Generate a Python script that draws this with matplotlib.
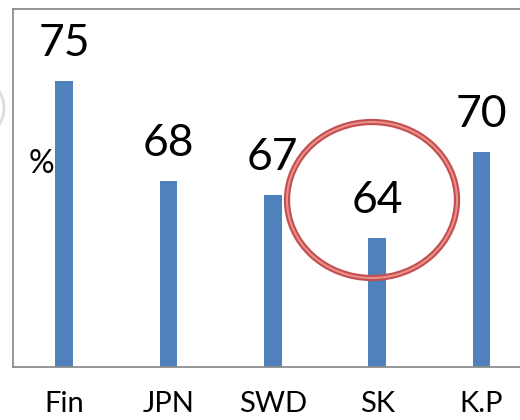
import matplotlib
matplotlib.use("Agg")
import matplotlib.pyplot as plt
from matplotlib.patches import Ellipse, Arc

categories = ["Fin", "JPN", "SWD", "SK", "K.P"]
values = [75, 68, 67, 64, 70]
unit_label = "%"

plt.rcParams["font.family"] = ["Lato", "DejaVu Sans"]

fig = plt.figure(figsize=(5.2, 4.2), dpi=100)
ax = fig.add_axes([13 / 520, 1 - 367 / 420, 531 / 520, (367 - 9) / 420])

x = list(range(len(categories)))
ax.bar(x, values, width=0.17, color="#4F81BD", zorder=2)
ax.set_xlim(-0.49, 4.6)
ax.set_ylim(55, 80)

for xi, v in zip(x, values):
    ax.annotate(str(v), (xi, v), xytext=(0, 27), textcoords="offset points",
                ha="center", va="center", fontsize=32, color="black")

ax.set_xticks(x)
ax.set_xticklabels(categories, fontsize=21)
ax.tick_params(axis="x", length=0, pad=17)
ax.set_yticks([])

for side in ("left", "bottom", "top", "right"):
    ax.spines[side].set_color("#8c8c8c")
    ax.spines[side].set_linewidth(1.3)

ax.text(-0.22, 69.2, unit_label, ha="center", va="center", fontsize=23)

# highlight ring around the SK bar
ring_kw = dict(xy=(372 / 520, 1 - 200 / 420), width=170 / 520, height=156 / 420,
               transform=fig.transFigure, fill=False, zorder=5)
fig.patches.append(Ellipse(edgecolor="#C0504D", linewidth=4.5, **ring_kw))
fig.patches.append(Ellipse(edgecolor="#EE8E8B", linewidth=1.5, **ring_kw))

# faint arc at the left margin
fig.patches.append(Arc((-14 / 520, 1 - 108 / 420), 36 / 520, 48 / 420,
                       theta1=-60, theta2=60, transform=fig.transFigure,
                       edgecolor="#dcdcdc", linewidth=2))

fig.savefig("out.png", dpi=100)
